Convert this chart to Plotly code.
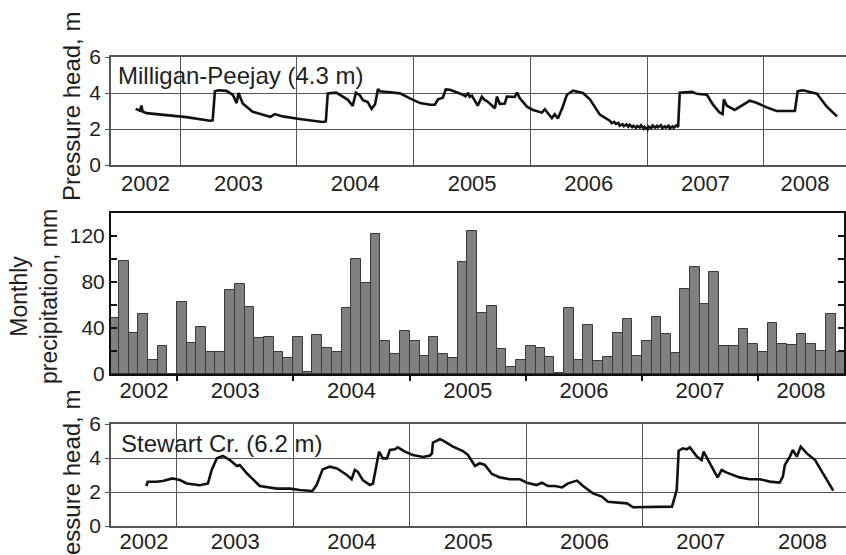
import pandas as pd
import plotly.graph_objects as go

W, H = 846, 555
FONT = "Liberation Sans, Arial, sans-serif"
INK = "#1e1e1e"
FRAME = "#555555"

# ---- Milligan-Peejay piezometer (4.3 m), pressure head in m ----
mp_dates = [
    "2002-08-15", "2002-08-29", "2002-09-02", "2002-09-06", "2002-09-18", "2002-10-20",
    "2002-12-09", "2003-01-21", "2003-04-04", "2003-04-13", "2003-04-20", "2003-05-01",
    "2003-05-26", "2003-06-15", "2003-06-27", "2003-07-03", "2003-07-16", "2003-08-16",
    "2003-09-28", "2003-10-11", "2003-10-24", "2003-11-18", "2004-01-10", "2004-03-22",
    "2004-04-01", "2004-04-07", "2004-05-04", "2004-05-24", "2004-06-09", "2004-06-24",
    "2004-07-04", "2004-07-16", "2004-07-26", "2004-08-10", "2004-08-22", "2004-09-02",
    "2004-09-11", "2004-09-17", "2004-11-19", "2004-12-20", "2005-01-21", "2005-02-21",
    "2005-03-08", "2005-03-18", "2005-04-02", "2005-04-11", "2005-04-24", "2005-06-04",
    "2005-06-12", "2005-06-20", "2005-06-25", "2005-07-02", "2005-07-11", "2005-07-20",
    "2005-08-02", "2005-08-10", "2005-08-18", "2005-09-12", "2005-09-18", "2005-09-27",
    "2005-10-13", "2005-10-19", "2005-11-13", "2005-11-20", "2005-11-29", "2005-12-21",
    "2006-01-09", "2006-02-06", "2006-02-15", "2006-03-09", "2006-03-18", "2006-03-28",
    "2006-04-12", "2006-04-25", "2006-05-14", "2006-06-14", "2006-07-06", "2006-08-06",
    "2006-09-06", "2006-09-12", "2006-09-20", "2006-09-25", "2006-10-03", "2006-10-07",
    "2006-10-16", "2006-10-20", "2006-10-28", "2006-11-03", "2006-11-07", "2006-11-15",
    "2006-11-19", "2006-11-27", "2006-12-01", "2006-12-09", "2006-12-13", "2006-12-21",
    "2006-12-24", "2007-01-02", "2007-01-05", "2007-01-14", "2007-01-18", "2007-01-26",
    "2007-02-01", "2007-02-04", "2007-02-13", "2007-02-17", "2007-02-25", "2007-03-01",
    "2007-03-09", "2007-03-13", "2007-03-21", "2007-03-25", "2007-04-02", "2007-04-08",
    "2007-04-13", "2007-05-21", "2007-06-05", "2007-07-07", "2007-07-26", "2007-08-16",
    "2007-08-25", "2007-08-29", "2007-09-07", "2007-10-02", "2007-11-18", "2007-12-09",
    "2008-01-10", "2008-02-10", "2008-04-07", "2008-04-16", "2008-05-02", "2008-06-15",
    "2008-07-16", "2008-08-17",
]
mp_head = [
    3.12, 3.02, 3.30, 2.97, 2.88, 2.82,
    2.74, 2.66, 2.46, 2.48, 4.10, 4.15,
    4.12, 3.90, 3.44, 4.00, 3.42, 2.96,
    2.74, 2.68, 2.83, 2.70, 2.56, 2.39,
    2.42, 3.98, 4.02, 3.80, 3.62, 3.28,
    4.02, 3.88, 3.60, 3.50, 3.12, 3.38,
    4.22, 4.10, 3.98, 3.70, 3.44, 3.35,
    3.35, 3.65, 3.74, 4.20, 4.18, 3.90,
    3.82, 4.02, 3.78, 3.85, 3.55, 3.30,
    3.80, 3.62, 3.55, 3.15, 3.80, 3.40,
    3.42, 3.80, 3.78, 4.02, 3.70, 3.24,
    3.06, 2.91, 3.10, 2.60, 2.82, 2.58,
    3.24, 3.90, 4.13, 4.00, 3.65, 2.80,
    2.46, 2.33, 2.40, 2.28, 2.34, 2.18,
    2.27, 2.16, 2.25, 2.13, 2.24, 2.10,
    2.18, 2.06, 2.17, 2.09, 2.21, 2.02,
    2.12, 1.98, 2.14, 2.06, 2.19, 2.08,
    2.17, 2.10, 2.21, 2.05, 2.14, 2.08,
    2.18, 2.03, 2.15, 2.06, 2.20, 2.12,
    4.02, 4.07, 3.96, 3.90, 3.35, 2.90,
    2.83, 3.65, 3.30, 3.06, 3.57, 3.46,
    3.20, 3.00, 3.00, 4.10, 4.15, 3.96,
    3.24, 2.70,
]

# ---- Monthly precipitation, Jun 2002 - Sep 2008, mm ----
precip_start, precip_end = "2002-06-01", "2008-09-01"
precip_mm = [
    49, 98, 36, 52, 12, 24, 0,
    63, 27, 41, 19, 19, 73, 78, 58, 31, 32, 19, 14,
    32, 2, 34, 23, 19, 57, 100, 79, 122, 29, 17, 37,
    29, 16, 32, 17, 14, 97, 124, 53, 59, 22, 6, 12,
    24, 23, 15, 1, 57, 12, 43, 11, 15, 36, 48, 16,
    29, 50, 35, 18, 74, 93, 61, 89, 24, 24, 39, 26,
    19, 44, 26, 25, 35, 26, 20, 52, 19,
]

# ---- Stewart Cr. piezometer (6.2 m), pressure head in m ----
sc_dates = [
    "2002-09-27", "2002-10-01", "2002-10-29", "2002-11-17", "2002-12-18", "2003-01-10",
    "2003-02-01", "2003-03-14", "2003-04-08", "2003-04-20", "2003-05-06", "2003-05-25",
    "2003-06-16", "2003-07-08", "2003-07-17", "2003-08-08", "2003-09-18", "2003-10-10",
    "2003-11-10", "2003-12-22", "2004-01-21", "2004-03-01", "2004-03-14", "2004-04-02",
    "2004-04-24", "2004-05-17", "2004-06-17", "2004-07-02", "2004-07-12", "2004-07-21",
    "2004-08-06", "2004-08-28", "2004-09-07", "2004-09-19", "2004-09-26", "2004-10-08",
    "2004-10-21", "2004-10-30", "2004-11-15", "2004-11-24", "2004-12-16", "2005-01-10",
    "2005-02-11", "2005-03-05", "2005-03-11", "2005-03-14", "2005-04-05", "2005-04-15",
    "2005-05-16", "2005-06-16", "2005-07-02", "2005-07-24", "2005-08-08", "2005-08-24",
    "2005-09-15", "2005-10-10", "2005-11-10", "2005-12-12", "2006-01-03", "2006-02-03",
    "2006-02-19", "2006-03-10", "2006-04-01", "2006-04-23", "2006-05-12", "2006-06-09",
    "2006-06-28", "2006-07-29", "2006-08-26", "2006-09-14", "2006-10-22", "2006-11-13",
    "2006-12-02", "2006-12-24", "2007-02-02", "2007-03-18", "2007-04-03", "2007-04-12",
    "2007-04-18", "2007-04-24", "2007-05-07", "2007-05-19", "2007-05-29", "2007-06-20",
    "2007-07-05", "2007-07-11", "2007-07-30", "2007-08-24", "2007-09-06", "2007-09-22",
    "2007-11-01", "2007-12-03", "2008-01-04", "2008-02-04", "2008-03-06", "2008-03-16",
    "2008-03-22", "2008-04-07", "2008-04-16", "2008-04-29", "2008-05-11", "2008-05-30",
    "2008-06-25", "2008-07-26", "2008-08-21",
]
sc_head = [
    2.35, 2.60, 2.60, 2.65, 2.80, 2.70,
    2.50, 2.40, 2.50, 3.30, 3.98, 4.12,
    3.88, 3.53, 3.59, 3.10, 2.35, 2.30,
    2.20, 2.20, 2.12, 2.06, 2.41, 3.33,
    3.49, 3.39, 3.00, 2.75, 3.30, 3.20,
    2.70, 2.41, 2.50, 3.69, 4.37, 3.98,
    3.98, 4.47, 4.51, 4.63, 4.37, 4.18,
    4.06, 4.15, 4.27, 4.90, 5.10, 5.02,
    4.67, 4.41, 4.18, 3.53, 3.69, 3.59,
    3.06, 2.86, 2.75, 2.75, 2.55, 2.41,
    2.55, 2.35, 2.35, 2.27, 2.51, 2.67,
    2.35, 1.92, 1.73, 1.43, 1.37, 1.33,
    1.10, 1.10, 1.14, 1.10, 1.14, 1.73,
    2.12, 4.43, 4.57, 4.51, 4.63, 4.08,
    3.88, 4.37, 3.69, 2.86, 3.29, 3.14,
    2.86, 2.75, 2.75, 2.61, 2.55, 2.90,
    3.59, 4.08, 4.47, 4.08, 4.67, 4.27,
    3.88, 2.90, 2.08,
]

years = list(range(2002, 2009))
head_ticks = [0, 2, 4, 6]

# visible time windows of each panel
top_range = ["2002-05-30", "2008-09-14"]
mid_range = ["2002-06-07", "2008-09-27"]
bot_range = ["2002-06-08", "2008-09-30"]

L = 111 / W


def py(px):
    return 1 - px / H


def year_labels(rng):
    """Year labels centred on the visible part of each calendar year."""
    r0, r1 = pd.Timestamp(rng[0]), pd.Timestamp(rng[1])
    vals, text = [], []
    for y in years:
        a = max(pd.Timestamp(f"{y}-01-01"), r0)
        b = min(pd.Timestamp(f"{y + 1}-01-01"), r1)
        if b > a:
            vals.append(a + (b - a) / 2)
            text.append(str(y))
    return vals, text


year_starts = [pd.Timestamp(f"{y}-01-01") for y in years[1:]]

months = pd.date_range(precip_start, precip_end, freq="MS")
month_ms = [((m + pd.offsets.MonthBegin(1)) - m).days * 86400000 for m in months]

fig = go.Figure()
fig.add_trace(go.Scatter(x=pd.to_datetime(mp_dates), y=mp_head, mode="lines",
                         line=dict(color="#111111", width=2.6),
                         xaxis="x", yaxis="y", showlegend=False))
fig.add_trace(go.Bar(x=months, y=precip_mm, width=month_ms, offset=0,
                     marker=dict(color="#808080", line=dict(color="#3a3a3a", width=1)),
                     xaxis="x2", yaxis="y2", showlegend=False))
fig.add_trace(go.Scatter(x=pd.to_datetime(sc_dates), y=sc_head, mode="lines",
                         line=dict(color="#111111", width=2.6),
                         xaxis="x3", yaxis="y3", showlegend=False))

tick_font_x = dict(family=FONT, size=22, color=INK)
tick_font_y = dict(family=FONT, size=21, color=INK)


def head_xaxis(rng, dom_y_anchor, standoff):
    tv, tt = year_labels(rng)
    return dict(
        domain=[L, 1], range=rng, type="date", anchor=dom_y_anchor,
        tickmode="array", tickvals=tv, ticktext=tt, ticks="", showgrid=False,
        tickfont=tick_font_x, ticklabelstandoff=standoff, automargin=False,
        minor=dict(tickmode="array", tickvals=year_starts, showgrid=True,
                   gridcolor=FRAME, gridwidth=1.4, ticks=""),
        showline=True, linecolor=FRAME, linewidth=1.6, mirror=True,
        zeroline=False, fixedrange=True,
    )


def head_yaxis(dom, x_anchor):
    return dict(
        domain=dom, range=[0, 6], anchor=x_anchor, automargin=False,
        tickmode="array", tickvals=head_ticks, ticks="outside", ticklen=4,
        tickcolor=FRAME, tickwidth=1.4, tickfont=tick_font_y,
        showgrid=True, gridcolor=FRAME, gridwidth=1.4,
        showline=True, linecolor=FRAME, linewidth=1.6, mirror=False,
        zeroline=False, fixedrange=True,
    )


mtv, mtt = year_labels(mid_range)

fig.update_layout(
    width=W, height=H,
    margin=dict(l=0, r=0, t=0, b=0, pad=0, autoexpand=False),
    paper_bgcolor="white", plot_bgcolor="white",
    font=dict(family=FONT, color=INK),
    bargap=0,
    xaxis=head_xaxis(top_range, "y", -2),
    yaxis=head_yaxis([py(165), py(57)], "x"),
    xaxis2=dict(
        domain=[L, 844 / W], range=mid_range, type="date", anchor="y2",
        tickmode="array", tickvals=mtv, ticktext=mtt, ticks="", showgrid=False,
        tickfont=tick_font_x, ticklabelstandoff=-4, automargin=False,
        minor=dict(tickmode="array", tickvals=year_starts, ticks="outside",
                   ticklen=5, tickwidth=1.5, tickcolor="#111111", showgrid=False),
        showline=True, linecolor="#111111", linewidth=2, mirror=True,
        zeroline=False, fixedrange=True,
    ),
    yaxis2=dict(
        domain=[py(374), py(213)], range=[0, 140], anchor="x2", automargin=False,
        tickmode="linear", tick0=0, dtick=40, ticks="inside", ticklen=6,
        tickwidth=1.5, tickcolor="#111111", tickfont=tick_font_y,
        minor=dict(tickmode="linear", tick0=0, dtick=20, ticks="inside",
                   ticklen=6, tickwidth=1.5, tickcolor="#111111", showgrid=False),
        showgrid=False, showline=True, linecolor="#111111", linewidth=2,
        mirror="ticks", zeroline=False, fixedrange=True,
    ),
    xaxis3=head_xaxis(bot_range, "y3", -5),
    yaxis3=head_yaxis([py(526), py(424)], "x3"),
)

title_font = dict(family=FONT, size=24, color=INK)
fig.add_annotation(text="Pressure head, m", textangle=-90, xref="paper", yref="paper",
                   x=71 / W, y=py(107), xanchor="center", yanchor="middle",
                   showarrow=False, font=title_font)
fig.add_annotation(text="Monthly<br>precipitation, mm", textangle=-90,
                   xref="paper", yref="paper", x=34 / W, y=py(297),
                   xanchor="center", yanchor="middle", showarrow=False,
                   font=dict(family=FONT, size=23, color=INK), align="center")
fig.add_annotation(text="Pressure head, m", textangle=-90, xref="paper", yref="paper",
                   x=71 / W, y=py(485), xanchor="center", yanchor="middle",
                   showarrow=False, font=title_font)

fig.add_annotation(text="Milligan-Peejay (4.3 m)", xref="paper", yref="paper",
                   x=116 / W, y=py(76), xanchor="left", yanchor="middle",
                   showarrow=False, font=dict(family=FONT, size=24, color=INK))
fig.add_annotation(text="Stewart Cr. (6.2 m)", xref="paper", yref="paper",
                   x=119 / W, y=py(443), xanchor="left", yanchor="middle",
                   showarrow=False, font=dict(family=FONT, size=24, color=INK))

fig.write_html("out.html")
